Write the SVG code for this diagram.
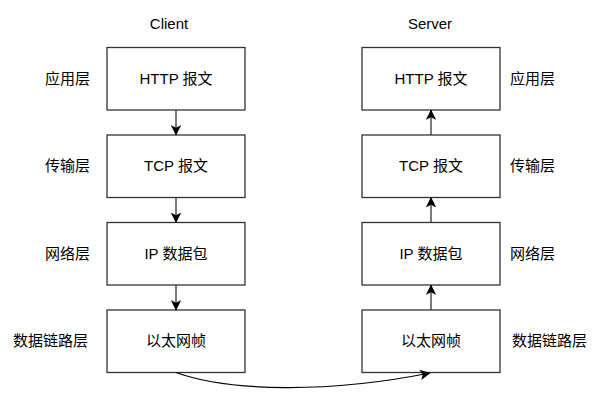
<svg xmlns="http://www.w3.org/2000/svg" width="611" height="408" viewBox="0 0 611 408">
<style>
.box{fill:#fff;stroke:#333;stroke-width:1.3}
.t{font-family:"Liberation Sans","Noto Sans CJK SC",sans-serif;font-size:15px;fill:#000}
.c{text-anchor:middle}
.e{text-anchor:end}
.edge{fill:none;stroke:#333;stroke-width:1.3}
.curve{fill:none;stroke:#000;stroke-width:1.2}
</style>
<defs>
<marker id="ah" viewBox="0 0 10 10" refX="9.5" refY="5" markerWidth="10.5" markerHeight="10.5" markerUnits="userSpaceOnUse" orient="auto">
<path d="M0,0 L10,5 L0,10 L2.5,5 Z" fill="#000"/>
</marker>
</defs>
<rect width="611" height="408" fill="#fff"/>
<text class="t c" x="169" y="29">Client</text>
<text class="t c" x="430" y="29">Server</text>
<g id="labels-left">
<text class="t e" x="90" y="84">应用层</text>
<text class="t e" x="90" y="171">传输层</text>
<text class="t e" x="90" y="259">网络层</text>
<text class="t e" x="88" y="346">数据链路层</text>
</g>
<g id="labels-right">
<text class="t" x="510" y="84">应用层</text>
<text class="t" x="510" y="171">传输层</text>
<text class="t" x="510" y="259">网络层</text>
<text class="t" x="512" y="346">数据链路层</text>
</g>
<g id="client-http"><rect class="box" x="107" y="47.5" width="138" height="62.5"/><text class="t c" x="176" y="84">HTTP 报文</text></g>
<g id="client-tcp"><rect class="box" x="107" y="135" width="138" height="62.5"/><text class="t c" x="176" y="171">TCP 报文</text></g>
<g id="client-ip"><rect class="box" x="107" y="222.5" width="138" height="62.5"/><text class="t c" x="176" y="259">IP 数据包</text></g>
<g id="client-eth"><rect class="box" x="107" y="310" width="138" height="62.5"/><text class="t c" x="176" y="346">以太网帧</text></g>
<g id="server-http"><rect class="box" x="362" y="47.5" width="138" height="62.5"/><text class="t c" x="431" y="84">HTTP 报文</text></g>
<g id="server-tcp"><rect class="box" x="362" y="135" width="138" height="62.5"/><text class="t c" x="431" y="171">TCP 报文</text></g>
<g id="server-ip"><rect class="box" x="362" y="222.5" width="138" height="62.5"/><text class="t c" x="431" y="259">IP 数据包</text></g>
<g id="server-eth"><rect class="box" x="362" y="310" width="138" height="62.5"/><text class="t c" x="431" y="346">以太网帧</text></g>
<g id="connectors">
<path class="edge" d="M176,110 L176,135" marker-end="url(#ah)"/>
<path class="edge" d="M176,197.5 L176,222.5" marker-end="url(#ah)"/>
<path class="edge" d="M176,285 L176,310" marker-end="url(#ah)"/>
<path class="edge" d="M431,310 L431,285" marker-end="url(#ah)"/>
<path class="edge" d="M431,222.5 L431,197.5" marker-end="url(#ah)"/>
<path class="edge" d="M431,135 L431,110" marker-end="url(#ah)"/>
<path class="curve" d="M176,372.5 C230,392 330,393 430,373" marker-end="url(#ah)"/>
</g>
</svg>
